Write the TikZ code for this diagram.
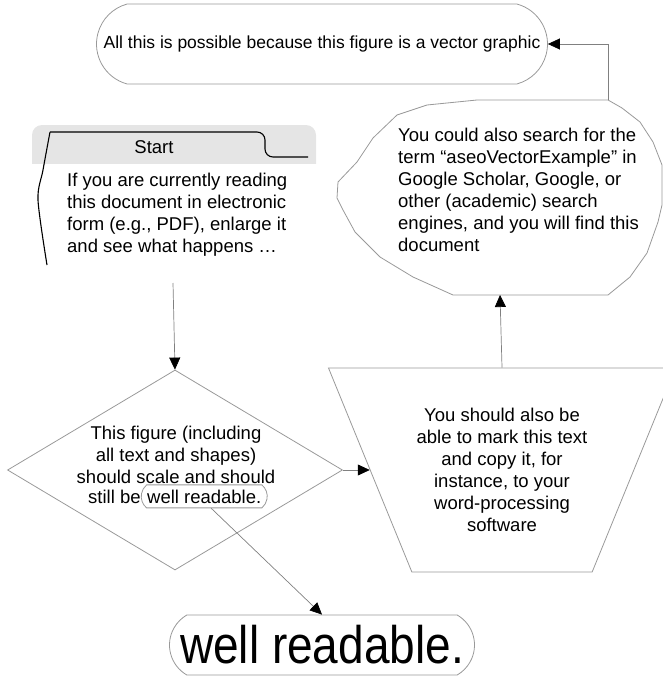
\documentclass[tikz,border=0pt]{standalone}
\usepackage{graphicx}
\usepackage{fontspec}
\setmainfont{Liberation Sans}
\usetikzlibrary{shapes.geometric,shapes.misc,arrows.meta,positioning}

\tikzset{
  outline/.style={draw=black!40, line width=0.8pt},
  flow/.style={draw=black!50, line width=0.7pt, -{Triangle[length=12pt,width=11pt,color=black]}},
  txt/.style={inner sep=0pt, font=\fontsize{18.5}{22}\selectfont},
  term/.style={outline, rounded rectangle, inner sep=0pt},
}

\begin{document}
\begin{tikzpicture}[x=1pt,y=-1pt]
\useasboundingbox (0,0) rectangle (662,677);

\node[term, rounded rectangle arc length=150, minimum width=451pt, minimum height=80pt, font=\fontsize{17.5}{21}\selectfont] (goal) at (322,44) {All this is possible because this figure is a vector graphic};

\begin{scope}
\clip (0,0) rectangle (662,163);
\fill[gray!20, rounded corners=10pt] (32,125) rectangle (316,190);
\end{scope}
\node[txt] (start) at (154,147) {Start};
\draw[line width=1.1pt, rounded corners=8pt] (50,132) -- (265,132) -- (265,157) -- (308,157);
\draw[line width=1.1pt] plot[smooth] coordinates {(50,132) (43,170) (38,200) (47,265)};
\node[txt, align=left, anchor=north west] (info) at (67,173) {If you are currently reading\\this document in electronic\\form (e.g., PDF), enlarge it\\and see what happens …};
\coordinate (infoout) at (173,283);

\node[outline, diamond, minimum width=335pt, minimum height=200pt, inner sep=0pt] (dec) at (175,470) {};
\node[txt, align=center, anchor=north] (dectext) at (176,426) {This figure (including\\all text and shapes)\\should scale and should};
\node[txt, anchor=base west] (stillbe) at (88,503) {still be};
\node[term, txt, rounded rectangle arc length=100, minimum width=126pt, minimum height=23pt, anchor=west] (wr) at (stillbe.east) {well readable.};

\node[outline, trapezium, trapezium angle=56, trapezium stretches body=true, shape border rotate=180, minimum width=347pt, minimum height=204pt, txt, align=center] (copy) at (502,470) {You should also be\\able to mark this text\\and copy it, for\\instance, to your\\word-processing\\software};

\node[txt, align=left, anchor=north west] (search) at (398,128) {You could also search for the\\term “aseoVectorExample” in\\Google Scholar, Google, or\\other (academic) search\\engines, and you will find this\\document};
\draw[outline, line join=round] (477,100) -- (608,100) -- (622,108) -- (640,122) -- (653,142) -- (662,165) -- (662,205) -- (658,222) -- (647,253) -- (630,277) -- (608,295) -- (453,295) -- (413,277) -- (380,257) -- (355,232) -- (343,210) -- (337,198) -- (338,182) -- (357,162) -- (373,138) -- (397,115) -- (427,105) -- cycle;
\coordinate (searchtop) at (608,100);
\coordinate (searchbot) at (500,295);

\node[term, rounded rectangle arc length=120, minimum width=305pt, minimum height=60pt, font=\fontsize{46}{50}\selectfont] (big) at (322,645) {\scalebox{1}[1.15]{well readable.}};

\draw[flow] (infoout) -- (dec.north);
\draw[flow] (dec.east) -- (copy.west);
\draw[flow] (copy.north) -- (searchbot);
\draw[flow] (searchtop) |- (goal.east);
\draw[flow] ([xshift=7pt]wr.south) -- (big.north);
\end{tikzpicture}
\end{document}
